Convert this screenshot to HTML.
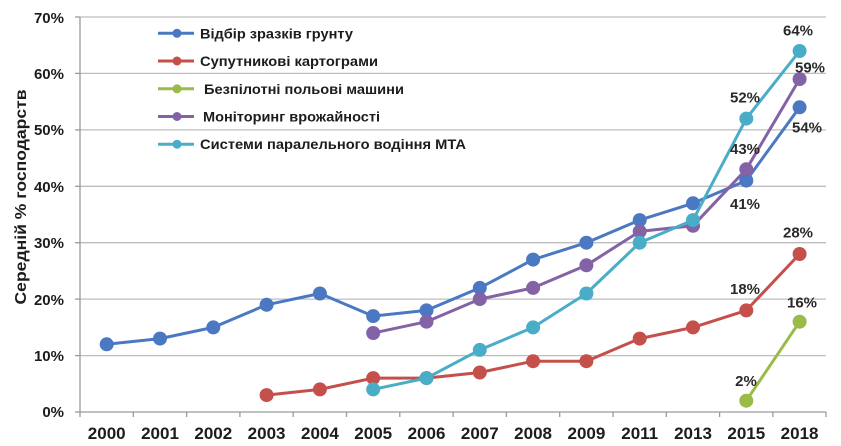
<!DOCTYPE html>
<html>
<head>
<meta charset="utf-8">
<style>
html,body{margin:0;padding:0;background:#fff;}
svg{display:block;}
text{font-family:"Liberation Sans","DejaVu Sans",sans-serif;}
</style>
</head>
<body>
<svg width="841" height="446" viewBox="0 0 841 446" xmlns="http://www.w3.org/2000/svg">
  <!-- gridlines -->
  <g stroke="#bdbdbd" stroke-width="1.3">
    <line x1="80" y1="17" x2="826" y2="17"/>
    <line x1="80" y1="73.4" x2="826" y2="73.4"/>
    <line x1="80" y1="129.9" x2="826" y2="129.9"/>
    <line x1="80" y1="186.3" x2="826" y2="186.3"/>
    <line x1="80" y1="242.7" x2="826" y2="242.7"/>
    <line x1="80" y1="299.1" x2="826" y2="299.1"/>
    <line x1="80" y1="355.6" x2="826" y2="355.6"/>
  </g>
  <!-- axes -->
  <g stroke="#9a9a9a" stroke-width="1.3">
    <line x1="80" y1="17" x2="80" y2="412"/>
    <line x1="80" y1="412" x2="826" y2="412"/>
    <!-- y ticks -->
    <line x1="75" y1="17" x2="80" y2="17"/>
    <line x1="75" y1="73.4" x2="80" y2="73.4"/>
    <line x1="75" y1="129.9" x2="80" y2="129.9"/>
    <line x1="75" y1="186.3" x2="80" y2="186.3"/>
    <line x1="75" y1="242.7" x2="80" y2="242.7"/>
    <line x1="75" y1="299.1" x2="80" y2="299.1"/>
    <line x1="75" y1="355.6" x2="80" y2="355.6"/>
    <line x1="75" y1="412" x2="80" y2="412"/>
    <!-- x ticks -->
    <line x1="80" y1="412" x2="80" y2="417"/>
    <line x1="133.3" y1="412" x2="133.3" y2="417"/>
    <line x1="186.6" y1="412" x2="186.6" y2="417"/>
    <line x1="239.9" y1="412" x2="239.9" y2="417"/>
    <line x1="293.2" y1="412" x2="293.2" y2="417"/>
    <line x1="346.5" y1="412" x2="346.5" y2="417"/>
    <line x1="399.8" y1="412" x2="399.8" y2="417"/>
    <line x1="453.1" y1="412" x2="453.1" y2="417"/>
    <line x1="506.4" y1="412" x2="506.4" y2="417"/>
    <line x1="559.7" y1="412" x2="559.7" y2="417"/>
    <line x1="613" y1="412" x2="613" y2="417"/>
    <line x1="666.3" y1="412" x2="666.3" y2="417"/>
    <line x1="719.6" y1="412" x2="719.6" y2="417"/>
    <line x1="772.9" y1="412" x2="772.9" y2="417"/>
    <line x1="826" y1="412" x2="826" y2="417"/>
  </g>
  <!-- y labels -->
  <g font-size="15" font-weight="bold" fill="#1c1c1c" text-anchor="end">
    <text x="64" y="23">70%</text>
    <text x="64" y="79">60%</text>
    <text x="64" y="135">50%</text>
    <text x="64" y="192">40%</text>
    <text x="64" y="248">30%</text>
    <text x="64" y="305">20%</text>
    <text x="64" y="361">10%</text>
    <text x="64" y="417">0%</text>
  </g>
  <!-- x labels -->
  <g font-size="17" font-weight="bold" fill="#1c1c1c" text-anchor="middle">
    <text x="106.7" y="439">2000</text>
    <text x="160" y="439">2001</text>
    <text x="213.3" y="439">2002</text>
    <text x="266.6" y="439">2003</text>
    <text x="319.9" y="439">2004</text>
    <text x="373.2" y="439">2005</text>
    <text x="426.5" y="439">2006</text>
    <text x="479.8" y="439">2007</text>
    <text x="533.1" y="439">2008</text>
    <text x="586.4" y="439">2009</text>
    <text x="639.7" y="439">2011</text>
    <text x="693" y="439">2013</text>
    <text x="746.3" y="439">2015</text>
    <text x="799.6" y="439">2018</text>
  </g>
  <!-- y axis title -->
  <text transform="translate(26,197) rotate(-90)" font-size="16" font-weight="bold" fill="#1c1c1c" text-anchor="middle" textLength="215" lengthAdjust="spacingAndGlyphs">Середній % господарств</text>

  <!-- series: blue -->
  <g stroke="#4A78C2" fill="#4A78C2">
    <polyline fill="none" stroke-width="3" stroke-linejoin="round" points="106.7,344.3 160,338.6 213.3,327.4 266.6,304.8 319.9,293.5 373.2,316.1 426.5,310.4 479.8,287.9 533.1,259.6 586.4,242.7 639.7,220.1 693,203.3 746.3,180.6 799.6,107.3"/>
    <g stroke="none">
      <circle cx="106.7" cy="344.3" r="7"/><circle cx="160" cy="338.6" r="7"/><circle cx="213.3" cy="327.4" r="7"/><circle cx="266.6" cy="304.8" r="7"/><circle cx="319.9" cy="293.5" r="7"/><circle cx="373.2" cy="316.1" r="7"/><circle cx="426.5" cy="310.4" r="7"/><circle cx="479.8" cy="287.9" r="7"/><circle cx="533.1" cy="259.6" r="7"/><circle cx="586.4" cy="242.7" r="7"/><circle cx="639.7" cy="220.1" r="7"/><circle cx="693" cy="203.3" r="7"/><circle cx="746.3" cy="180.6" r="7"/><circle cx="799.6" cy="107.3" r="7"/>
    </g>
  </g>
  <!-- red -->
  <g stroke="#C5504B" fill="#C5504B">
    <polyline fill="none" stroke-width="3" stroke-linejoin="round" points="266.6,395.1 319.9,389.4 373.2,378.1 426.5,378.1 479.8,372.5 533.1,361.2 586.4,361.2 639.7,338.6 693,327.4 746.3,310.4 799.6,254"/>
    <g stroke="none">
      <circle cx="266.6" cy="395.1" r="7"/><circle cx="319.9" cy="389.4" r="7"/><circle cx="373.2" cy="378.1" r="7"/><circle cx="426.5" cy="378.1" r="7"/><circle cx="479.8" cy="372.5" r="7"/><circle cx="533.1" cy="361.2" r="7"/><circle cx="586.4" cy="361.2" r="7"/><circle cx="639.7" cy="338.6" r="7"/><circle cx="693" cy="327.4" r="7"/><circle cx="746.3" cy="310.4" r="7"/><circle cx="799.6" cy="254" r="7"/>
    </g>
  </g>
  <!-- green -->
  <g stroke="#9BBB49" fill="#9BBB49">
    <polyline fill="none" stroke-width="3" points="746.3,400.7 799.6,321.7"/>
    <g stroke="none">
      <circle cx="746.3" cy="400.7" r="7"/><circle cx="799.6" cy="321.7" r="7"/>
    </g>
  </g>
  <!-- purple -->
  <g stroke="#8462A6" fill="#8462A6">
    <polyline fill="none" stroke-width="3" stroke-linejoin="round" points="373.2,333 426.5,321.7 479.8,299.1 533.1,287.9 586.4,265.3 639.7,231.4 693,225.8 746.3,169.3 799.6,79.1"/>
    <g stroke="none">
      <circle cx="373.2" cy="333" r="7"/><circle cx="426.5" cy="321.7" r="7"/><circle cx="479.8" cy="299.1" r="7"/><circle cx="533.1" cy="287.9" r="7"/><circle cx="586.4" cy="265.3" r="7"/><circle cx="639.7" cy="231.4" r="7"/><circle cx="693" cy="225.8" r="7"/><circle cx="746.3" cy="169.3" r="7"/><circle cx="799.6" cy="79.1" r="7"/>
    </g>
  </g>
  <!-- cyan -->
  <g stroke="#4AADC8" fill="#4AADC8">
    <polyline fill="none" stroke-width="3" stroke-linejoin="round" points="373.2,389.4 426.5,378.1 479.8,349.9 533.1,327.4 586.4,293.5 639.7,242.7 693,220.1 746.3,118.6 799.6,51"/>
    <g stroke="none">
      <circle cx="373.2" cy="389.4" r="7"/><circle cx="426.5" cy="378.1" r="7"/><circle cx="479.8" cy="349.9" r="7"/><circle cx="533.1" cy="327.4" r="7"/><circle cx="586.4" cy="293.5" r="7"/><circle cx="639.7" cy="242.7" r="7"/><circle cx="693" cy="220.1" r="7"/><circle cx="746.3" cy="118.6" r="7"/><circle cx="799.6" cy="51" r="7"/>
    </g>
  </g>

  <!-- data labels -->
  <g font-size="15" font-weight="bold" fill="#2a2a2a" text-anchor="middle">
    <text x="798" y="35.5">64%</text>
    <text x="810" y="72.5">59%</text>
    <text x="745" y="102.5">52%</text>
    <text x="807" y="132.5">54%</text>
    <text x="745" y="154">43%</text>
    <text x="745" y="209">41%</text>
    <text x="798" y="237.5">28%</text>
    <text x="745" y="294">18%</text>
    <text x="802" y="307.5">16%</text>
    <text x="746" y="386">2%</text>
  </g>

  <!-- legend -->
  <g stroke-width="3">
    <line x1="158" y1="33.3" x2="194" y2="33.3" stroke="#4A78C2"/>
    <circle cx="177" cy="33.3" r="4.5" fill="#4A78C2"/>
    <line x1="158" y1="61" x2="194" y2="61" stroke="#C5504B"/>
    <circle cx="177" cy="61" r="4.5" fill="#C5504B"/>
    <line x1="158" y1="88.8" x2="194" y2="88.8" stroke="#9BBB49"/>
    <circle cx="177" cy="88.8" r="4.5" fill="#9BBB49"/>
    <line x1="158" y1="116.5" x2="194" y2="116.5" stroke="#8462A6"/>
    <circle cx="177" cy="116.5" r="4.5" fill="#8462A6"/>
    <line x1="158" y1="144.2" x2="194" y2="144.2" stroke="#4AADC8"/>
    <circle cx="177" cy="144.2" r="4.5" fill="#4AADC8"/>
  </g>
  <g font-size="14" font-weight="bold" fill="#1c1c1c">
    <text x="200" y="38.3" textLength="153" lengthAdjust="spacingAndGlyphs">Відбір зразків грунту</text>
    <text x="200" y="66" textLength="178" lengthAdjust="spacingAndGlyphs">Супутникові картограми</text>
    <text x="204" y="93.8" textLength="200" lengthAdjust="spacingAndGlyphs">Безпілотні польові машини</text>
    <text x="203" y="121.5" textLength="177" lengthAdjust="spacingAndGlyphs">Моніторинг врожайності</text>
    <text x="200" y="149.2" textLength="266" lengthAdjust="spacingAndGlyphs">Системи паралельного водіння МТА</text>
  </g>
</svg>
</body>
</html>
